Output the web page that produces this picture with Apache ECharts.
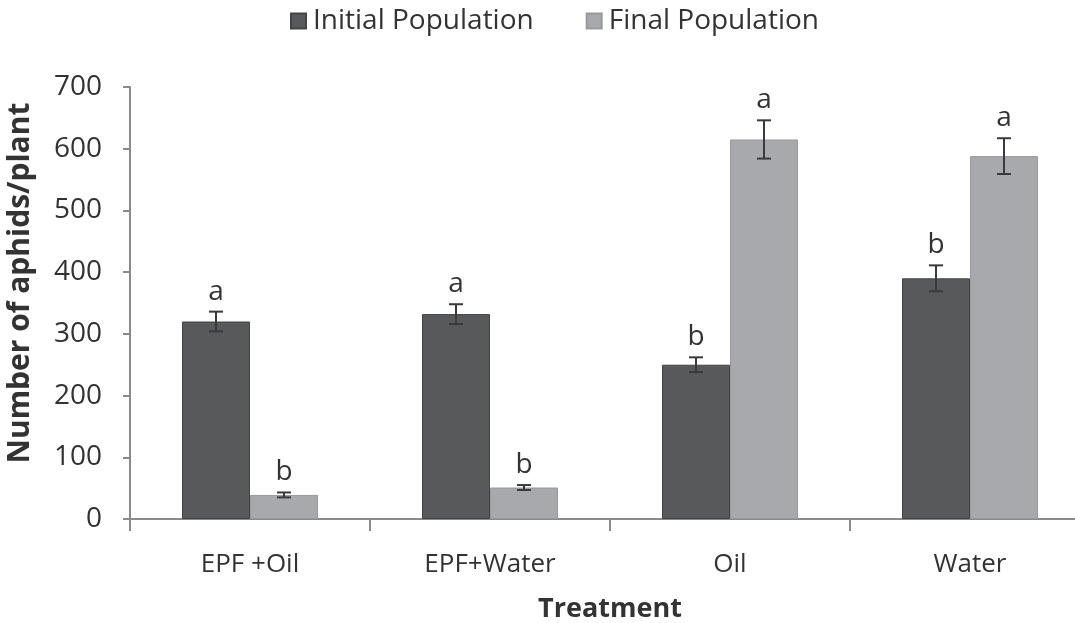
<!DOCTYPE html>
<html>
<head>
<meta charset="utf-8">
<script src="https://cdn.jsdelivr.net/npm/echarts@6/dist/echarts.min.js"></script>
<style>
html,body{margin:0;padding:0;background:#fff;overflow:hidden}
#c{width:1075px;height:623px}
</style>
</head>
<body>
<div id="c"></div>
<script>
const categories = ['EPF +Oil', 'EPF+Water', 'Oil', 'Water'];
const initialValues = [320, 332, 250, 390];
const initialErrors = [16, 16, 12, 21];
const initialLetters = ['a', 'a', 'b', 'b'];
const finalValues = [39, 51, 615, 588];
const finalErrors = [4, 4, 31, 29];
const finalLetters = ['b', 'b', 'a', 'a'];
const yTicks = [0, 100, 200, 300, 400, 500, 600, 700];

const FONT = 'Open Sans';
const BAR_W = 68;
const DARK = '#58595b';
const LIGHT = '#a7a9ac';

function errData(vals, errs, letters) {
  return vals.map((v, i) => [i, v - errs[i], v + errs[i], letters[i]]);
}
function errRender(side) {
  return function (params, api) {
    const i = api.value(0);
    const lo = api.coord([i, api.value(1)]);
    const hi = api.coord([i, api.value(2)]);
    const x = lo[0] + side * BAR_W / 2;
    const cap = 7;
    const st = { stroke: '#3a3a3a', lineWidth: 2 };
    return {
      type: 'group',
      children: [
        { type: 'line', shape: { x1: x, y1: lo[1], x2: x, y2: hi[1] }, style: st },
        { type: 'line', shape: { x1: x - cap, y1: lo[1], x2: x + cap, y2: lo[1] }, style: st },
        { type: 'line', shape: { x1: x - cap, y1: hi[1], x2: x + cap, y2: hi[1] }, style: st },
        { type: 'text', style: { text: api.value(3), x: x, y: hi[1] - 6, textAlign: 'center', textVerticalAlign: 'bottom', fontFamily: FONT, fontSize: 28, fill: '#333' } }
      ]
    };
  };
}

const chart = echarts.init(document.getElementById('c'), null, { renderer: 'canvas' });
chart.setOption({
  animation: false,
  backgroundColor: '#fff',
  legend: {
    top: 2,
    left: 285,
    itemWidth: 15,
    itemHeight: 15,
    itemGap: 52,
    icon: 'rect',
    textStyle: { fontFamily: FONT, fontSize: 28, color: '#333', padding: [0, 0, 0, 2] },
    data: ['Initial Population', 'Final Population']
  },
  grid: { left: 130, top: 87, right: -15, bottom: 104, containLabel: false, outerBoundsMode: 'none' },
  xAxis: {
    type: 'category',
    data: categories,
    name: 'Treatment',
    nameLocation: 'middle',
    nameGap: 77,
    nameTextStyle: { fontFamily: FONT, fontSize: 27, fontWeight: 'bold', color: '#333' },
    axisLine: { lineStyle: { color: '#8a8a8a', width: 2 } },
    axisTick: { show: true, length: 12, inside: false, lineStyle: { color: '#8a8a8a', width: 2 } },
    axisLabel: { fontFamily: FONT, fontSize: 26, color: '#333', margin: 33 }
  },
  yAxis: {
    type: 'value',
    min: 0,
    max: 700,
    interval: 100,
    name: 'Number of aphids/plant',
    nameLocation: 'middle',
    nameGap: 95,
    nameTextStyle: { fontFamily: FONT, fontSize: 30, fontWeight: 'bold', color: '#333', padding: [0, 0, 0, 40] },
    axisLine: { show: true, lineStyle: { color: '#8a8a8a', width: 2 } },
    axisTick: { show: true, length: 7, lineStyle: { color: '#8a8a8a', width: 2 } },
    splitLine: { show: false },
    axisLabel: { fontFamily: FONT, fontSize: 28, color: '#333', margin: 28, formatter: v => yTicks.includes(v) ? String(v) : '' }
  },
  series: [
    {
      name: 'Initial Population', type: 'bar', data: initialValues,
      barWidth: BAR_W, barGap: '0%',
      itemStyle: { color: DARK, borderColor: '#444', borderWidth: 1 }
    },
    {
      name: 'Final Population', type: 'bar', data: finalValues,
      barWidth: BAR_W, barGap: '0%',
      itemStyle: { color: LIGHT, borderColor: '#999', borderWidth: 1 }
    },
    { type: 'custom', name: 'errInitial', renderItem: errRender(-1), data: errData(initialValues, initialErrors, initialLetters), z: 10 },
    { type: 'custom', name: 'errFinal', renderItem: errRender(1), data: errData(finalValues, finalErrors, finalLetters), z: 10 }
  ]
});
</script>
</body>
</html>
